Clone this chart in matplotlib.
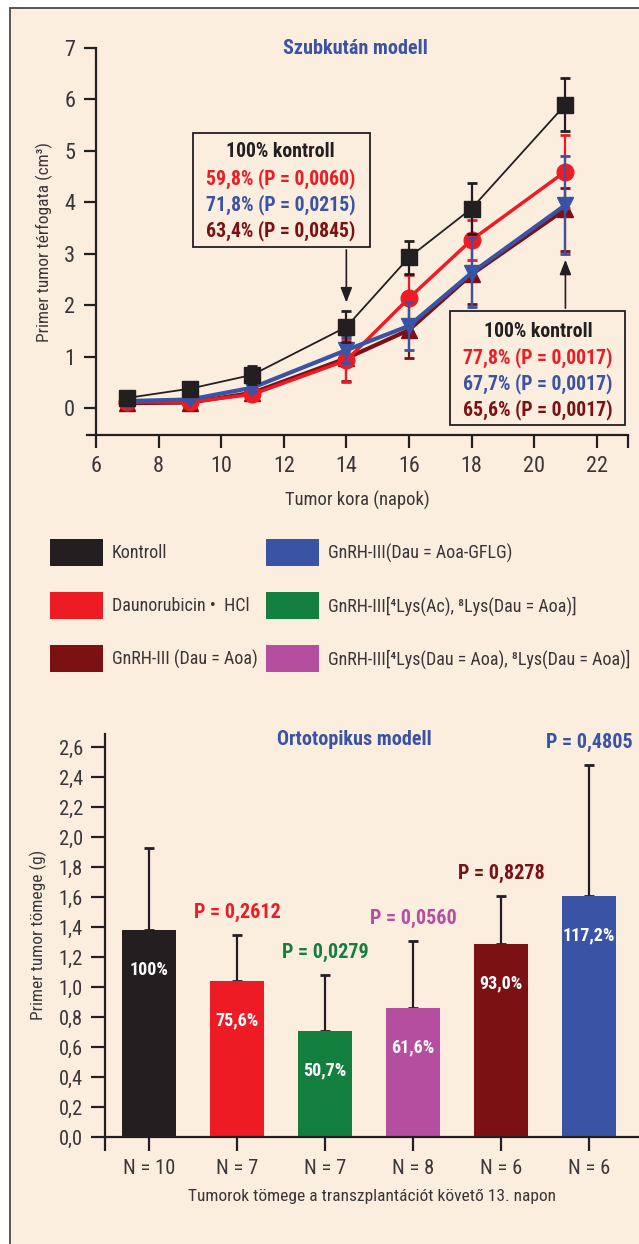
import numpy as np
import matplotlib
matplotlib.use('Agg')
import matplotlib.pyplot as plt
from matplotlib.patches import Rectangle, Patch

plt.rcParams['font.family'] = ['Roboto Condensed', 'Roboto', 'DejaVu Sans']

# colours
bg = '#FCEEDF'
c_black = '#231F20'
c_red = '#ED1C24'
c_dred = '#7B1113'
c_blue = '#3A53A4'
c_green = '#137F3E'
c_mag = '#B54E9F'
c_txt = '#3A3536'

# --- top chart data (tumor volume, cm3) ---
days = [7, 9, 11, 14, 16, 18, 21]
kontroll = [0.2, 0.38, 0.65, 1.58, 2.93, 3.88, 5.9]
kontroll_err = [0.05, 0.09, 0.17, 0.3, 0.32, 0.49, 0.52]
dauno = [0.12, 0.12, 0.27, 0.93, 2.14, 3.27, 4.6]
dauno_err = [0.03, 0.04, 0.05, 0.42, 0.45, 0.38, 0.71]
gflg = [0.14, 0.17, 0.4, 1.13, 1.6, 2.63, 3.95]
gflg_err = [0.03, 0.04, 0.08, 0.25, 0.47, 0.67, 0.95]
aoa = [0.1, 0.11, 0.3, 0.97, 1.52, 2.6, 3.87]
aoa_lo = [0.03, 0.04, 0.06, 0.45, 0.55, 0.57, 0.82]
aoa_hi = [0.03, 0.04, 0.06, 0.45, 0.55, 0.57, 0.41]

box1 = ['100% kontroll', '59,8% (P = 0,0060)', '71,8% (P = 0,0215)', '63,4% (P = 0,0845)']
box2 = ['100% kontroll', '77,8% (P = 0,0017)', '67,7% (P = 0,0017)', '65,6% (P = 0,0017)']
box_cols = [c_black, c_red, c_blue, c_dred]

# --- legend ---
leg_labels = ['Kontroll', 'Daunorubicin \u2022  HCl', 'GnRH-III (Dau = Aoa)',
              'GnRH-III(Dau = Aoa-GFLG)', 'GnRH-III[\u2074Lys(Ac), \u2078Lys(Dau = Aoa)]',
              'GnRH-III[\u2074Lys(Dau = Aoa), \u2078Lys(Dau = Aoa)]']
leg_cols = [c_black, c_red, c_dred, c_blue, c_green, c_mag]

# --- bottom chart data (tumor mass, g) ---
groups = ['N = 10', 'N = 7', 'N = 7', 'N = 8', 'N = 6', 'N = 6']
mass = [1.38, 1.04, 0.71, 0.86, 1.29, 1.61]
mass_err = [0.55, 0.31, 0.37, 0.45, 0.32, 0.87]
pct = ['100%', '75,6%', '50,7%', '61,6%', '93,0%', '117,2%']
pvals = ['', 'P = 0,2612', 'P = 0,0279', 'P = 0,0560', 'P = 0,8278', 'P = 0,4805']
bar_cols = [c_black, c_red, c_green, c_mag, c_dred, c_blue]

W, H = 639, 1244
fig = plt.figure(figsize=(W / 100, H / 100), dpi=100)
fig.patch.set_facecolor('white')
# outer panel frame
fig.patches.append(Rectangle((10 / W, -0.05), 1.1, 1.05 - 8 / H, transform=fig.transFigure,
                             facecolor=bg, edgecolor='#4a4a4a', lw=1.3, zorder=-5))

# ================= top chart =================
ax1 = fig.add_axes([86.6 / W, 1 - 435 / H, (628 - 86.6) / W, (435 - 48) / H])
ax1.set_facecolor('none')
ax1.set_xlim(5.7, 23)
ax1.set_ylim(-0.52, 7)
for s in ['top', 'right']:
    ax1.spines[s].set_visible(False)
ax1.spines['left'].set_position(('data', 6))
for s in ['left', 'bottom']:
    ax1.spines[s].set_linewidth(1.6)
    ax1.spines[s].set_color(c_black)
ax1.set_yticks(range(0, 8))
ax1.set_xticks([6, 8, 10, 12, 14, 16, 18, 20, 22, 23])
ax1.set_xticklabels(['6', '8', '10', '12', '14', '16', '18', '20', '22', ''])
ax1.tick_params(axis='both', direction='out', length=9, width=1.6, color=c_black,
                labelsize=16, labelcolor=c_txt, pad=6)

ek = dict(elinewidth=1.6, capsize=3.5, capthick=2)
ax1.errorbar(days, aoa, yerr=[aoa_lo, aoa_hi], color=c_dred, lw=3, marker='^', ms=12,
             zorder=2, **ek)
ax1.errorbar(days, dauno, yerr=dauno_err, color=c_red, lw=2.5, marker='o', ms=12,
             zorder=3, **ek)
ax1.errorbar(days, gflg, yerr=gflg_err, color=c_blue, lw=3, marker='v', ms=12,
             zorder=4, **ek)
ax1.errorbar(days, kontroll, yerr=kontroll_err, color=c_black, lw=1.3, marker='s', ms=11,
             zorder=5, **ek)

ax1.text(14.3, 7.0, 'Szubkután modell', color=c_blue, fontsize=14.5, fontweight='bold',
         ha='center', va='center')

# annotation boxes
ax1.add_patch(Rectangle((9.1, 3.13), 5.65, 2.22, facecolor='none', edgecolor=c_black,
                        lw=1.3, zorder=6))
for i, (t, c) in enumerate(zip(box1, box_cols)):
    ax1.text(11.9, 4.98 - i * 0.51, t, color=c, fontsize=14.2, fontweight='bold',
             ha='center', va='center', zorder=7)
ax1.annotate('', xy=(14, 2.0), xytext=(14, 3.13),
             arrowprops=dict(arrowstyle='-|>,head_length=0.9,head_width=0.35',
                             color=c_black, lw=1.2), zorder=6)

ax1.add_patch(Rectangle((17.31, -0.33), 5.59, 2.22, facecolor=bg, edgecolor=c_black,
                        lw=1.3, zorder=6))
for i, (t, c) in enumerate(zip(box2, box_cols)):
    ax1.text(20.12, 1.5 - i * 0.51, t, color=c, fontsize=14.2, fontweight='bold',
             ha='center', va='center', zorder=7)
ax1.annotate('', xy=(21, 2.94), xytext=(21, 1.89),
             arrowprops=dict(arrowstyle='-|>,head_length=0.9,head_width=0.35',
                             color=c_black, lw=1.2), zorder=6)

ax1.set_ylabel('Primer tumor térfogata (cm\u00b3)', fontsize=12.5, color=c_txt, labelpad=8)
ax1.set_xlabel('Tumor kora (napok)', fontsize=13.3, color=c_txt, labelpad=10)

# ================= legend (two columns placed separately) =================
handles = [Patch(facecolor=c, edgecolor='none') for c in leg_cols]
leg_kw = dict(loc='upper left', frameon=False, fontsize=13, handlelength=2.93,
              handleheight=1.92, handletextpad=0.5, labelspacing=1.45, borderpad=0,
              borderaxespad=0, labelcolor=c_txt)
fig.legend(handles[:3], leg_labels[:3], bbox_to_anchor=(50 / W, 1 - 539 / H), **leg_kw)
fig.legend(handles[3:], leg_labels[3:], bbox_to_anchor=(266 / W, 1 - 539 / H), **leg_kw)

# ================= bottom chart =================
ax2 = fig.add_axes([105 / W, 1 - 1137 / H, (639 - 105) / W, (1137 - 733.5) / H])
ax2.set_facecolor('none')
x = np.arange(len(mass))
ax2.bar(x, mass, width=0.62, color=bar_cols, zorder=2)
ax2.errorbar(x, mass, yerr=[np.zeros(len(mass)), mass_err], fmt='none', ecolor=c_black,
             elinewidth=1.6, capsize=3.5, capthick=2, zorder=1)
ax2.set_xlim(-0.5, 5.57)
ax2.set_ylim(0, 2.69)
for s in ['top', 'right']:
    ax2.spines[s].set_visible(False)
for s in ['left', 'bottom']:
    ax2.spines[s].set_linewidth(1.6)
    ax2.spines[s].set_color(c_black)
yt = np.round(np.arange(0, 2.61, 0.2), 1)
ax2.set_yticks(yt)
ax2.set_yticklabels([f'{v:.1f}'.replace('.', ',') for v in yt])
ax2.set_xticks([-0.5] + list(x))
ax2.set_xticklabels([''] + groups)
ax2.tick_params(axis='both', direction='out', length=10, width=1.6, color=c_black,
                labelsize=14.8, labelcolor=c_txt, pad=6)

for xi, m, e, p, pv, c in zip(x, mass, mass_err, pct, pvals, bar_cols):
    ax2.text(xi, m - 0.265, p, color='white', fontsize=13, fontweight='bold',
             ha='center', va='center', zorder=3)
    if pv:
        ax2.text(xi, m + e + 0.15, pv, color=c, fontsize=14.5, fontweight='bold',
                 ha='center', va='center', zorder=3)

ax2.text(2.34, 2.65, 'Ortotopikus modell', color=c_blue, fontsize=14.5, fontweight='bold',
         ha='center', va='center')
ax2.set_ylabel('Primer tumor tömege (g)', fontsize=12.5, color=c_txt, labelpad=8)
ax2.set_xlabel('Tumorok tömege a transzplantációt követő 13. napon', fontsize=12.5,
               color=c_txt, labelpad=8)

fig.savefig('out.png', dpi=100, facecolor=fig.get_facecolor())
